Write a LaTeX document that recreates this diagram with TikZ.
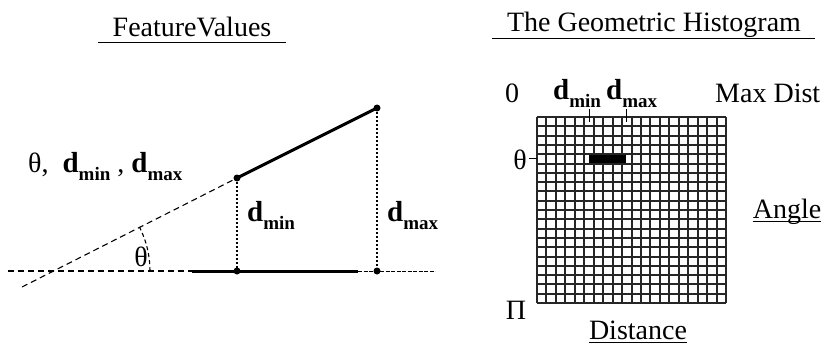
\documentclass[tikz,border=0pt]{standalone}
\usepackage{fontspec}
\setmainfont{Liberation Serif}
\usetikzlibrary{calc}
\newcommand{\dsb}[1]{{\fontsize{29}{30}\selectfont\textbf{d}}\raisebox{-8.5pt}{\fontsize{19}{19}\selectfont\textbf{#1}}}
\begin{document}
\begin{tikzpicture}[x=1pt,y=-1pt,
  lbl/.style={inner sep=0pt, font=\fontsize{28}{30}\selectfont},
  ttl/.style={inner sep=0pt, font=\fontsize{28}{30}\selectfont},
  boldseg/.style={line width=3pt},
  dotln/.style={line width=1.2pt, dash pattern=on 1.5pt off 2.5pt},
  dashln/.style={line width=1.1pt, dash pattern=on 6pt off 4pt},
  thinln/.style={line width=0.8pt, dash pattern=on 4pt off 1.5pt},
  gridln/.style={line width=2pt, black!85},
  dotpt/.style={circle, fill, inner sep=0pt, minimum size=7pt},
  uline/.style={line width=1pt}]
\useasboundingbox (0,0) rectangle (826,345);

% ---------- titles ----------
\node[ttl, anchor=base] (t1) at (192,37) {FeatureValues};
\coordinate (u1a) at (98,43); \coordinate (u1b) at (286,43);
\draw[uline] (u1a) -- (u1b);
\node[ttl, anchor=base] (t2) at (654,32) {The Geometric Histogram};
\coordinate (u2a) at (492,39); \coordinate (u2b) at (815,39);
\draw[uline] (u2a) -- (u2b);

% ---------- left diagram ----------
\coordinate (O) at (53,271);
\coordinate (Lend) at (22,287);
\coordinate (H0) at (8,271);
\coordinate (H1) at (192,271);
\coordinate (H2) at (358,271);
\coordinate (H3) at (435,271);
\node[dotpt] (A) at (237,178) {};
\node[dotpt] (B) at (377,108) {};
\node[dotpt] (Ap) at (237,271) {};
\node[dotpt] (Bp) at (377,271) {};

\draw[dashln] (H0) -- (H1);
\draw[boldseg] (H1) -- (H2);
\draw[thinln] (H2) -- (H3);
\draw[dashln] (Lend) -- (A.center);
\draw[boldseg] (A.center) -- (B.center);
\draw[dotln] (A.center) -- (Ap.center);
\draw[dotln] (B.center) -- (Bp.center);
\draw[dashln, dash pattern=on 4pt off 3pt] ($(O)+(97,0)$) arc[start angle=0, end angle=-27, radius=97];

\node[lbl] (th) at (141,257) {θ};
\node[lbl, anchor=base west] (feat) at (28,172) {θ,\ \ \dsb{min}\ ,\ \dsb{max}};
\node[lbl, anchor=base west] (lmin) at (247,221) {\dsb{min}};
\node[lbl, anchor=base west] (lmax) at (387,221) {\dsb{max}};

% ---------- histogram ----------
\foreach \i in {0,...,20} {
  \draw[gridln] ({537+\i*9.45},117) -- ({537+\i*9.45},303);
  \draw[gridln] (537,{117+\i*9.3}) -- (726,{117+\i*9.3});
}
\fill (589,155) rectangle (626,163);
\draw[line width=1pt] (589,109) -- (589,122);
\draw[line width=1pt] (626,109) -- (626,122);
\draw[line width=1pt] (529,158) -- (537,158);

\node[lbl, anchor=base] (zero) at (512,102) {0};
\node[lbl, anchor=base west] (hmin) at (553,99) {\dsb{min}};
\node[lbl, anchor=base west] (hmax) at (606,99) {\dsb{max}};
\node[lbl, anchor=base west] (mx) at (715,102) {Max Dist};
\node[lbl] (hth) at (520,160) {θ};
\node[lbl] (pi) at (516,310) {Π};
\node[lbl, anchor=base] (dist) at (638,339) {Distance};
\draw[uline] (dist.base west) ++(0,3) coordinate (d1) -- (dist.base east |- d1);
\node[lbl, anchor=base] (ang) at (787,218) {Angle};
\draw[uline] (ang.base west) ++(0,3) coordinate (a1) -- (ang.base east |- a1);
\end{tikzpicture}
\end{document}
